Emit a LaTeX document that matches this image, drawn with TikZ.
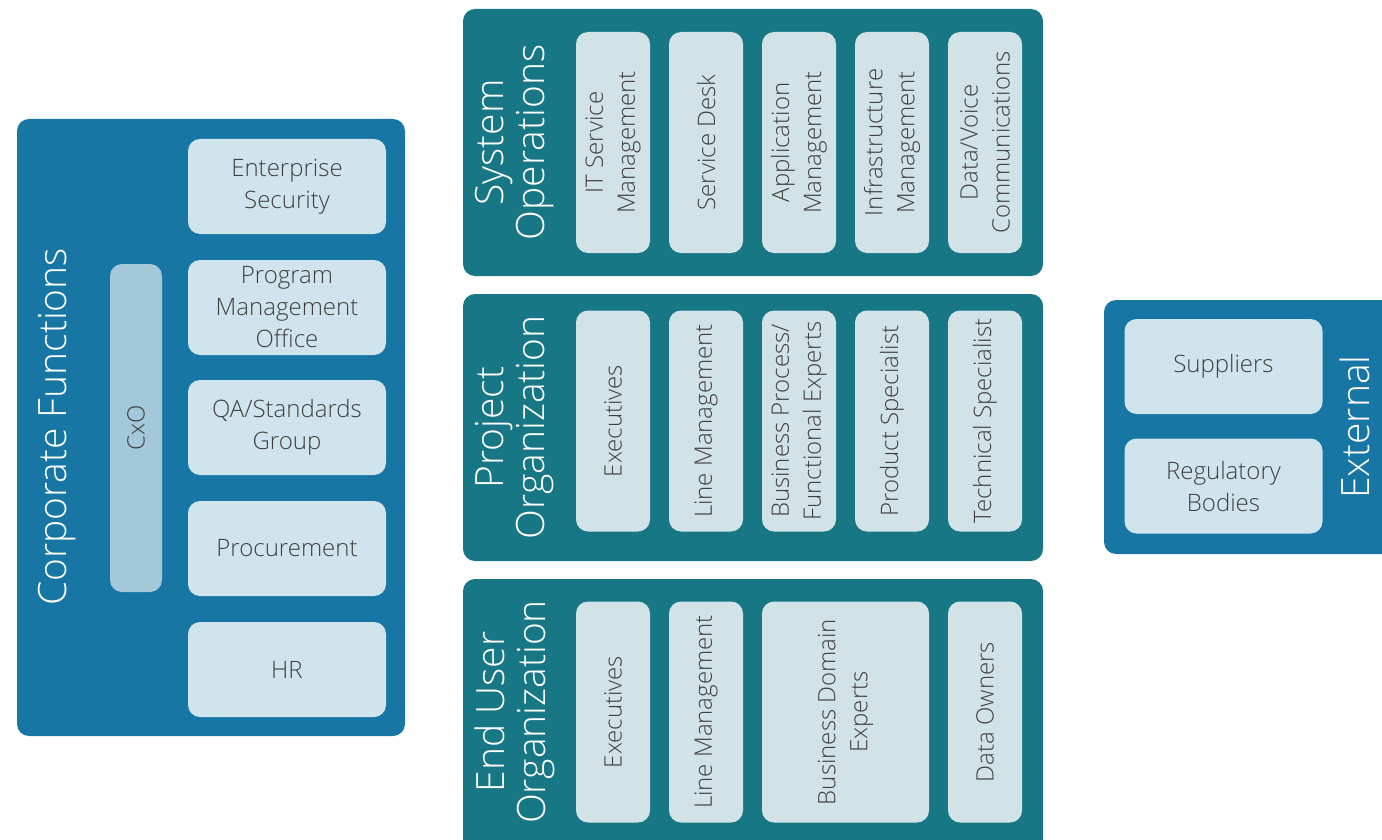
\documentclass[tikz,border=0pt]{standalone}
\usepackage{fontspec}
\IfFontExistsTF{Open Sans Light}{\setmainfont{Open Sans Light}}{\setmainfont{Open Sans}}
\definecolor{corpblue}{HTML}{1776A3}
\definecolor{opsteal}{HTML}{177785}
\definecolor{paleblue}{HTML}{D0E4ED}
\definecolor{paleteal}{HTML}{D1E3E7}
\definecolor{cxoblue}{HTML}{A3C8DA}
\definecolor{labelgray}{HTML}{404040}
\tikzset{
  group/.style={rounded corners=6pt, inner sep=0pt},
  title/.style={rotate=90, text=white, align=center,
    font=\fontsize{19.5}{20.5}\selectfont},
  item/.style={rounded corners=6pt, text=labelgray, align=center,
    inner sep=0pt, font=\fontsize{12}{16}\selectfont},
  rowitem/.style={item, fill=paleblue, minimum width=99pt, minimum height=47.5pt},
  colitem/.style={item, fill=paleteal, rotate=90, minimum width=110.5pt, minimum height=37pt},
}
\begin{document}
\begin{tikzpicture}[x=0.5pt, y=-0.5pt]
\useasboundingbox (0,0) rectangle (1382,840);
\clip (0,0) rectangle (1382,840);

%%%%%%%%%%%%%%%%%%%%%%%%%%%%%%%%%%%%%%%%

\node [group, fill=corpblue, minimum width=194pt, minimum height=308.5pt] (corp) at (211, 427.5) {};
\node [title] (corptitle) at (57, 427) {Corporate Functions};
\node [item, fill=cxoblue, rotate=90, minimum width=164pt, minimum height=26pt] (cxo) at (136, 428) {CxO};
\node [rowitem] (security) at (287, 186.5) {Enterprise\\Security};
\node [rowitem] (pmo)      at (287, 307.5) {Program\\Management\\Office};
\node [rowitem] (qa)       at (287, 427.5) {QA/Standards\\Group};
\node [rowitem] (procure)  at (287, 548.5) {Procurement};
\node [rowitem] (hr)       at (287, 669.5) {HR};

%%%%%%%%%%%%%%%%%%%%%%%%%%%%%%%%%%%%%%%%

\node [group, fill=opsteal, minimum width=290pt, minimum height=133.5pt] (sysops) at (753, 142.5) {};
\node [title] (systitle) at (515, 142.5) {System\\Operations};
\node [colitem] (itsm)     at (613, 142.5) {IT Service\\Management};
\node [colitem] (desk)     at (706, 142.5) {Service Desk};
\node [colitem] (appmgmt)  at (799, 142.5) {Application\\Management};
\node [colitem] (infra)    at (892, 142.5) {Infrastructure\\Management};
\node [colitem] (datavoice) at (985, 142.5) {Data/Voice\\Communications};

%%%%%%%%%%%%%%%%%%%%%%%%%%%%%%%%%%%%%%%%

\node [group, fill=opsteal, minimum width=290pt, minimum height=133.5pt] (project) at (753, 427.5) {};
\node [title] (projtitle) at (515, 427.5) {Project\\Organization};
\node [colitem] (projexec)  at (613, 421) {Executives};
\node [colitem] (projline)  at (706, 421) {Line Management};
\node [colitem] (process)   at (799, 421) {Business Process/\\Functional Experts};
\node [colitem] (product)   at (892, 421) {Product Specialist};
\node [colitem] (technical) at (985, 421) {Technical Specialist};

%%%%%%%%%%%%%%%%%%%%%%%%%%%%%%%%%%%%%%%%

\node [group, fill=opsteal, minimum width=290pt, minimum height=140.5pt] (enduser) at (753, 719.5) {};
\node [title] (eutitle) at (515, 712) {End User\\Organization};
\node [colitem] (euexec)  at (613, 712) {Executives};
\node [colitem] (euline)  at (706, 712) {Line Management};
\node [colitem, minimum height=83.5pt] (domain) at (845.5, 712) {Business Domain\\Experts};
\node [colitem] (owners)  at (985, 712) {Data Owners};

%%%%%%%%%%%%%%%%%%%%%%%%%%%%%%%%%%%%%%%%

\node [group, fill=corpblue, minimum width=148pt, minimum height=127pt] (external) at (1252, 427) {};
\node [title] (exttitle) at (1355, 427) {External};
\node [rowitem] (suppliers)  at (1223.5, 366.5) {Suppliers};
\node [rowitem] (regulatory) at (1223.5, 486) {Regulatory\\Bodies};

\end{tikzpicture}
\end{document}
